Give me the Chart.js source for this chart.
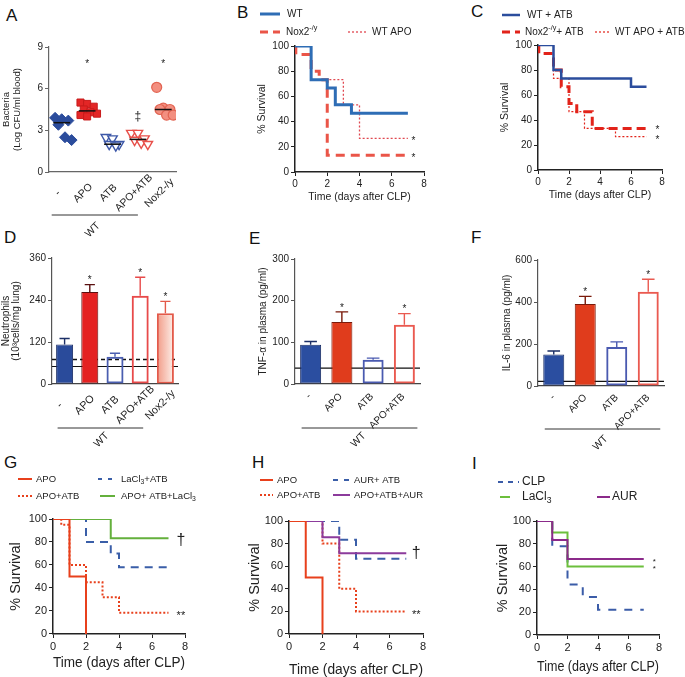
<!DOCTYPE html>
<html>
<head>
<meta charset="utf-8">
<title>Figure</title>
<script src="https://cdn.jsdelivr.net/npm/chart.js@4.4.1/dist/chart.umd.min.js"></script>
<style>
html, body { margin:0; padding:0; background:#ffffff; overflow:hidden; }
#wrap { position:relative; width:685px; height:677px; overflow:hidden; background:#ffffff; }
#wrap canvas { position:absolute; }
.plabel { position:absolute; font-family:'Liberation Sans', Arial, sans-serif; font-size:17px; line-height:17px; color:#111; }
</style>
</head>
<body>
<div id="wrap">
  <div class="plabel" style="left:6px;top:7px">A</div>
  <div class="plabel" style="left:237px;top:4px">B</div>
  <div class="plabel" style="left:471px;top:3px">C</div>
  <div class="plabel" style="left:4px;top:229px">D</div>
  <div class="plabel" style="left:249px;top:230px">E</div>
  <div class="plabel" style="left:471px;top:229px">F</div>
  <div class="plabel" style="left:4px;top:454px">G</div>
  <div class="plabel" style="left:252px;top:454px">H</div>
  <div class="plabel" style="left:472px;top:455px">I</div>
</div>
<script>
// ================= DATA =================
// Panel A : bacteria (log CFU/ml blood)
const catsA = ['-', 'APO', 'ATB', 'APO+ATB', 'Nox2-/y'];
const bactNone   = [3.9, 3.8, 3.7, 3.4, 2.5, 2.3];
const bactAPO    = [5.0, 4.9, 4.7, 4.5, 4.3, 4.2, 4.1, 4.0];
const bactATB    = [2.5, 2.4, 2.0, 2.0, 1.9];
const bactAPOATB = [2.8, 2.8, 2.4, 2.3, 2.1, 2.0];
const bactNox2   = [6.1, 4.6, 4.5, 4.5, 4.1, 4.1];
const bactTicks  = [0, 3, 6, 9];
const starsA     = ['APO', 'Nox2-/y'];
const starLevelA = 8.0;
const ddaggerA   = ['APO+ATB'];
const ddaggerLevelA = 4.0;

// Panel B : survival (day, %)
const survB_WT    = [[0,100],[1,73.3],[2,66.7],[2.5,53.3],[3.5,46.7],[7,46.7]];
const survB_Nox2  = [[0,100],[0.05,93.3],[1,80],[1.5,73.3],[2,13.3],[7,13.3]];
const survB_WTAPO = [[0,100],[1,73.3],[3,53.3],[4,26.7],[7,26.7]];

// Panel C
const survC_WT    = [[0,100],[1,80],[1.5,73.3],[6,66.7],[7,66.7]];
const survC_Nox2  = [[0,100],[0.05,93.3],[1,80],[1.5,66.7],[2,53.3],[2.5,46.7],[3.5,33.3],[7,33.3]];
const survC_WTAPO = [[0,100],[1,73.3],[2,46.7],[3,33.3],[5,26.7],[7,26.7]];

// Panel D : neutrophils
const catsD = ['-', 'APO', 'ATB', 'APO+ATB', 'Nox2-/y'];
const neutroMean = [113, 263, 78, 252, 202];
const neutroSem  = [17, 21, 10, 53, 34];
const neutroRefDashed = 70;
const neutroRefSolid  = 50;
const neutroTicks = [0, 120, 240, 360];
const starsD = ['APO', 'APO+ATB', 'Nox2-/y'];

// Panel E : TNF-alpha
const catsEF = ['-', 'APO', 'ATB', 'APO+ATB'];
const tnfMean = [94, 149, 58, 142];
const tnfSem  = [8, 24, 4, 27];
const tnfRef  = 38;
const tnfTicks = [0, 100, 200, 300];
// Panel F : IL-6
const il6Mean = [150, 390, 186, 449];
const il6Sem  = [17, 37, 24, 59];
const il6Ref  = 22;
const il6Ticks = [0, 200, 400, 600];
const starsEF = ['APO', 'APO+ATB'];

// Panel G
const survG_APO      = [[0,100],[1,50],[2,0]];
const survG_APOATB   = [[0,100],[0.5,95],[1,60],[2,45],[3,32],[4,18.5],[7,18.5]];
const survG_LaATB    = [[0,100],[2,80],[3.5,70],[4,58],[7,58]];
const survG_APOATBLa = [[0,100],[3.5,83.3],[7,83.3]];
// Panel H
const survH_APO       = [[0,100],[1,50],[2,0]];
const survH_APOATB    = [[0,100],[2,80],[3,40],[4,20],[7,20]];
const survH_AURATB    = [[0,100],[3,83.3],[4,66.7],[7,66.7]];
const survH_APOATBAUR = [[0,100],[2,85.7],[3,71.4],[7,71.4]];
// Panel I
const survI_CLP = [[0,100],[1,77.8],[2,44.4],[3,33.3],[4,22.2],[7,22.2]];
const survI_La  = [[0,100],[1,90],[2,60],[7,60]];
const survI_AUR = [[0,100],[1,83.3],[2,66.7],[7,66.7]];

const survTicksX = [0, 2, 4, 6, 8];
const survTicksY = [0, 20, 40, 60, 80, 100];

// ================= SETUP =================
const FONT = "'Liberation Sans', Arial, Helvetica, sans-serif";
Chart.defaults.font.family = FONT;
Chart.defaults.color = '#222';
Chart.defaults.animation = false;
Chart.defaults.responsive = false;
Chart.defaults.maintainAspectRatio = false;
Chart.defaults.devicePixelRatio = 1;
Chart.defaults.plugins.legend.display = false;
Chart.defaults.plugins.tooltip.enabled = false;
Chart.defaults.events = [];

const wrap = document.getElementById('wrap');
function mkCanvas(b) {
  const c = document.createElement('canvas');
  c.width = b.w; c.height = b.h;
  c.style.left = b.x + 'px'; c.style.top = b.y + 'px';
  c.style.width = b.w + 'px'; c.style.height = b.h + 'px';
  wrap.appendChild(c);
  return c;
}
function geom(cv, area, yTitleX, yTitleSize, yTitleLH, xTitleY, xTitleSize, xTitleLH) {
  const padL = yTitleX == null ? 0 : Math.max(0, yTitleX - cv.x - yTitleSize * yTitleLH / 2);
  const padB = xTitleY == null ? 0 : Math.max(0, cv.y + cv.h - xTitleY - xTitleSize * xTitleLH / 2);
  return {
    padding: { left: padL, top: area.t - cv.y, right: cv.x + cv.w - area.r, bottom: padB },
    yW: area.l - cv.x - padL,
    xH: cv.y + cv.h - padB - area.b
  };
}
function fixedTicks(arr) { return s => { s.ticks = arr.map(v => ({ value: v })); }; }
function richSegs(str) {
  const out = []; const re = /(\^\{[^}]*\}|_\{[^}]*\})/g; let last = 0, m;
  while ((m = re.exec(str))) {
    if (m.index > last) out.push([str.slice(last, m.index), '']);
    out.push([m[0].slice(2, -1), m[0][0] === '^' ? 'sup' : 'sub']);
    last = re.lastIndex;
  }
  if (last < str.length) out.push([str.slice(last), '']);
  return out;
}
function drawRich(ctx, str, x, y, size, color) {
  ctx.save(); ctx.fillStyle = color || '#222'; ctx.textBaseline = 'middle'; ctx.textAlign = 'left';
  let cx = x;
  for (const [t, k] of richSegs(str)) {
    const fs = k ? size * 0.72 : size;
    ctx.font = fs + 'px ' + FONT;
    const dy = k === 'sup' ? -size * 0.38 : (k === 'sub' ? size * 0.3 : 0);
    ctx.fillText(t, cx, y + dy);
    cx += ctx.measureText(t).width;
  }
  ctx.restore();
}
function drawStar(ctx, text, x, y, size) {
  ctx.save(); ctx.fillStyle = '#222'; ctx.font = size + 'px ' + FONT;
  ctx.textAlign = 'center'; ctx.textBaseline = 'alphabetic';
  ctx.fillText(text, x, y + size * 0.58); ctx.restore();
}
function drawMark(ctx, text, x, y, size) {
  ctx.save(); ctx.fillStyle = '#222'; ctx.font = size + 'px ' + FONT;
  ctx.textAlign = 'center'; ctx.textBaseline = 'middle';
  ctx.fillText(text, x, y); ctx.restore();
}
// rotated category labels under the x axis
function drawCatLabels(ctx, xs, cats, axisY, L) {
  cats.forEach((c, i) => {
    ctx.save();
    ctx.translate(xs.getPixelForValue(i) + L.dx, axisY + L.dy);
    ctx.rotate(-Math.PI / 4);
    ctx.fillStyle = '#222'; ctx.font = L.size + 'px ' + FONT;
    ctx.textAlign = L.align; ctx.textBaseline = 'middle';
    ctx.fillText(c, 0, 0);
    ctx.restore();
  });
}
function drawGroup(ctx, xs, i0, i1, yLocal, label, G) {
  const a = xs.getPixelForValue(i0) + G.a, b = xs.getPixelForValue(i1) + G.b;
  ctx.save(); ctx.strokeStyle = '#333'; ctx.lineWidth = 1;
  ctx.beginPath(); ctx.moveTo(a, yLocal); ctx.lineTo(b, yLocal); ctx.stroke();
  ctx.translate((a + b) / 2 + G.tx, yLocal + G.ty); ctx.rotate(-Math.PI / 4);
  ctx.fillStyle = '#222'; ctx.font = G.size + 'px ' + FONT; ctx.textAlign = 'center'; ctx.textBaseline = 'middle';
  ctx.fillText(label, 0, 0); ctx.restore();
}
function median(arr) {
  const s = [...arr].sort((p, q) => p - q); const n = s.length;
  return n % 2 ? s[(n - 1) / 2] : (s[n / 2 - 1] + s[n / 2]) / 2;
}

// ================= PANEL A (dot plot) =================
(function () {
  const cv = { x: 0, y: 0, w: 225, h: 250 };
  const area = { l: 49, t: 47, r: 176, b: 172 };
  const g = geom(cv, area, 6, 9.5, 1.15, null, 0, 1.2);
  const groups = [bactNone, bactAPO, bactATB, bactAPOATB, bactNox2];
  const styles = [
    { ps: 'rectRot', bg: '#2b4c9c', bc: '#2b4c9c', r: 5.5, rot: 0, bw: 1 },
    { ps: 'rect', bg: '#e32626', bc: '#c81c1c', r: 5, rot: 0, bw: 1 },
    { ps: 'triangle', bg: '#ffffff', bc: '#3d58a8', r: 5.5, rot: 180, bw: 1.4 },
    { ps: 'triangle', bg: '#ffffff', bc: '#e8504a', r: 5.5, rot: 180, bw: 1.4 },
    { ps: 'circle', bg: '#f38f80', bc: '#e26452', r: 5, rot: 0, bw: 1.2 }
  ];
  const spread = (i) => ((i % 3) - 1) * 0.26 + ((Math.floor(i / 3) % 2) ? 0.13 : 0);
  const datasets = groups.map((vals, gi) => ({
    data: vals.map((v, i) => ({ x: gi + spread(i), y: v })),
    pointStyle: styles[gi].ps, pointRadius: styles[gi].r, pointRotation: styles[gi].rot,
    backgroundColor: styles[gi].bg, borderColor: styles[gi].bc, pointBorderWidth: styles[gi].bw
  }));
  const deco = {
    id: 'decoA',
    afterDatasetsDraw(chart) {
      const ctx = chart.ctx, xs = chart.scales.x, ys = chart.scales.y;
      groups.forEach((vals, gi) => {
        const y = ys.getPixelForValue(median(vals));
        ctx.save(); ctx.strokeStyle = '#111'; ctx.lineWidth = 1.5;
        ctx.beginPath(); ctx.moveTo(xs.getPixelForValue(gi - 0.33), y); ctx.lineTo(xs.getPixelForValue(gi + 0.33), y); ctx.stroke(); ctx.restore();
      });
      starsA.forEach(c => drawStar(ctx, '*', xs.getPixelForValue(catsA.indexOf(c)), ys.getPixelForValue(starLevelA), 10));
      ddaggerA.forEach(c => drawMark(ctx, '\u2021', xs.getPixelForValue(catsA.indexOf(c)), ys.getPixelForValue(ddaggerLevelA), 12));
      drawCatLabels(ctx, xs, catsA, chart.chartArea.bottom, { dx: -4, dy: 21, align: 'center', size: 10.5 });
      drawGroup(ctx, xs, 0, 3, 215 - cv.y, 'WT', { a: -10, b: 0, tx: -2, ty: 15, size: 10.5 });
    }
  };
  new Chart(mkCanvas(cv), {
    type: 'scatter',
    data: { datasets },
    options: {
      layout: { padding: g.padding },
      scales: {
        x: {
          type: 'linear', min: -0.5, max: 4.5,
          afterBuildTicks: fixedTicks(catsA.map((_, i) => i)),
          ticks: { display: false },
          grid: { display: false, drawTicks: false },
          border: { display: true, color: '#666', width: 1.2 },
          afterFit: s => { s.height = g.xH; }
        },
        y: {
          min: 0, max: 9, afterBuildTicks: fixedTicks(bactTicks),
          ticks: { font: { size: 10 }, padding: 2, color: '#222' },
          grid: { display: true, drawOnChartArea: false, tickLength: 4, color: '#666' },
          border: { display: true, color: '#666', width: 1.2 },
          title: { display: true, text: ['Bacteria', '(Log CFU/ml blood)'], font: { size: 9.5, lineHeight: 1.15 }, padding: 0, color: '#222' },
          afterFit: s => { s.width = g.yW; }
        }
      }
    },
    plugins: [deco]
  });
})();

// ================= SURVIVAL PANELS =================
function survivalPanel(o) {
  const g = geom(o.cv, o.area, o.yTitleX, o.titleSize, 1.2, o.xTitleY, o.titleSize, 1.2);
  const deco = {
    id: 'deco' + o.id,
    afterDraw(chart) {
      const ctx = chart.ctx, xs = chart.scales.x, ys = chart.scales.y;
      for (const L of o.legend) {
        ctx.save(); ctx.strokeStyle = L.color; ctx.lineWidth = L.width; ctx.setLineDash(L.dash || []);
        ctx.beginPath(); ctx.moveTo(L.x1 - o.cv.x, L.y - o.cv.y); ctx.lineTo(L.x2 - o.cv.x, L.y - o.cv.y); ctx.stroke(); ctx.restore();
        drawRich(ctx, L.text, L.tx - o.cv.x, L.y - o.cv.y, o.legendSize);
      }
      for (const M of o.marks) {
        const px = xs.getPixelForValue(M.day), py = ys.getPixelForValue(M.value);
        if (M.star) drawStar(ctx, M.text, px, py, M.size); else drawMark(ctx, M.text, px, py, M.size);
      }
    }
  };
  new Chart(mkCanvas(o.cv), {
    type: 'line',
    data: {
      datasets: o.curves.map(c => ({
        data: c.data.map(([x, y]) => ({ x, y })),
        borderColor: c.color, borderWidth: c.width, borderDash: c.dash || [], borderCapStyle: 'butt',
        stepped: true, pointRadius: 0, fill: false
      }))
    },
    options: {
      layout: { padding: g.padding },
      scales: {
        x: {
          type: 'linear', min: 0, max: 8, afterBuildTicks: fixedTicks(survTicksX),
          ticks: { font: { size: o.tickSize }, color: '#222', padding: 2, maxRotation: 0 },
          grid: { display: true, drawOnChartArea: false, drawTicks: true, tickLength: 4, color: '#222' },
          border: { display: true, color: '#222', width: o.axisW },
          title: { display: true, text: 'Time (days after CLP)', font: { size: o.titleSize, lineHeight: 1.2 }, color: '#222', padding: 0 },
          afterFit: s => { s.height = g.xH; }
        },
        y: {
          min: 0, max: 100, afterBuildTicks: fixedTicks(survTicksY),
          ticks: { font: { size: o.tickSize }, color: '#222', padding: 2 },
          grid: { display: true, drawOnChartArea: false, drawTicks: true, tickLength: 4, color: '#222' },
          border: { display: true, color: '#222', width: o.axisW },
          title: { display: true, text: '% Survival', font: { size: o.titleSize, lineHeight: 1.2 }, color: '#222', padding: 0 },
          afterFit: s => { s.width = g.yW; }
        }
      }
    },
    plugins: [deco]
  });
}

survivalPanel({
  id: 'B', cv: { x: 225, y: 0, w: 230, h: 225 }, area: { l: 295, t: 46, r: 424, b: 172 },
  yTitleX: 262, xTitleY: 197, titleSize: 10.5, tickSize: 10, legendSize: 10, axisW: 1.5,
  curves: [
    { data: survB_WT, color: '#2e6db5', width: 3 },
    { data: survB_Nox2, color: '#ea5548', width: 3, dash: [9, 6] },
    { data: survB_WTAPO, color: '#e04850', width: 1.3, dash: [2, 2] }
  ],
  legend: [
    { text: 'WT', color: '#2e6db5', width: 3, x1: 260, x2: 280, y: 14, tx: 287 },
    { text: 'Nox2^{-/y}', color: '#ea5548', width: 3, dash: [8, 5], x1: 260, x2: 280, y: 32, tx: 286 },
    { text: 'WT APO', color: '#e04850', width: 1.3, dash: [2, 2], x1: 348, x2: 366, y: 32, tx: 372 }
  ],
  marks: [
    { text: '*', day: 7.35, value: 26.7, size: 10, star: true },
    { text: '*', day: 7.35, value: 13.3, size: 10, star: true }
  ]
});

survivalPanel({
  id: 'C', cv: { x: 455, y: 0, w: 230, h: 225 }, area: { l: 538, t: 45, r: 662, b: 170 },
  yTitleX: 505, xTitleY: 195, titleSize: 10.5, tickSize: 10, legendSize: 10, axisW: 1.5,
  curves: [
    { data: survC_WT, color: '#2b4d9d', width: 2.5 },
    { data: survC_Nox2, color: '#e2231a', width: 3, dash: [9, 5] },
    { data: survC_WTAPO, color: '#e2231a', width: 1.2, dash: [2, 2] }
  ],
  legend: [
    { text: 'WT + ATB', color: '#2b4d9d', width: 2.5, x1: 502, x2: 520, y: 15, tx: 527 },
    { text: 'Nox2^{-/y}+ ATB', color: '#e2231a', width: 3, dash: [8, 5], x1: 502, x2: 520, y: 32, tx: 525 },
    { text: 'WT APO + ATB', color: '#e2231a', width: 1.2, dash: [2, 2], x1: 595, x2: 611, y: 32, tx: 615 }
  ],
  marks: [
    { text: '*', day: 7.7, value: 34, size: 10, star: true },
    { text: '*', day: 7.7, value: 26, size: 10, star: true }
  ]
});

survivalPanel({
  id: 'G', cv: { x: 0, y: 450, w: 230, h: 235 }, area: { l: 53, t: 519, r: 185, b: 634 },
  yTitleX: 16, xTitleY: 663, titleSize: 14.5, tickSize: 11, legendSize: 9.5, axisW: 1.5,
  curves: [
    { data: survG_APO, color: '#e8401c', width: 2 },
    { data: survG_APOATBLa, color: '#64b03c', width: 2 },
    { data: survG_LaATB, color: '#3a5ea8', width: 2, dash: [8, 6] },
    { data: survG_APOATB, color: '#e8401c', width: 2, dash: [2, 2] }
  ],
  legend: [
    { text: 'APO', color: '#e8401c', width: 2, x1: 18, x2: 32, y: 479, tx: 36 },
    { text: 'APO+ATB', color: '#e8401c', width: 2, dash: [2, 2], x1: 18, x2: 32, y: 496, tx: 36 },
    { text: 'LaCl_{3}+ATB', color: '#3a5ea8', width: 2, dash: [4, 6], x1: 98, x2: 116, y: 479, tx: 121 },
    { text: 'APO+ ATB+LaCl_{3}', color: '#64b03c', width: 2, x1: 100, x2: 115, y: 496, tx: 121 }
  ],
  marks: [
    { text: '\u2020', day: 7.75, value: 81, size: 16, star: false },
    { text: '**', day: 7.75, value: 18.5, size: 11, star: true }
  ]
});

survivalPanel({
  id: 'H', cv: { x: 225, y: 450, w: 230, h: 235 }, area: { l: 289, t: 521, r: 423, b: 634 },
  yTitleX: 255, xTitleY: 670, titleSize: 14.5, tickSize: 11, legendSize: 9.5, axisW: 1.5,
  curves: [
    { data: survH_APO, color: '#e8401c', width: 2 },
    { data: survH_APOATBAUR, color: '#8c3b9c', width: 2 },
    { data: survH_AURATB, color: '#3a5ea8', width: 2, dash: [8, 6] },
    { data: survH_APOATB, color: '#e8401c', width: 2, dash: [2, 2] }
  ],
  legend: [
    { text: 'APO', color: '#e8401c', width: 2, x1: 260, x2: 273, y: 480, tx: 277 },
    { text: 'APO+ATB', color: '#e8401c', width: 2, dash: [2, 2], x1: 260, x2: 273, y: 495, tx: 277 },
    { text: 'AUR+ ATB', color: '#3a5ea8', width: 2, dash: [5, 6], x1: 333, x2: 350, y: 480, tx: 354 },
    { text: 'APO+ATB+AUR', color: '#8c3b9c', width: 2, x1: 333, x2: 350, y: 495, tx: 354 }
  ],
  marks: [
    { text: '\u2020', day: 7.6, value: 71, size: 16, star: false },
    { text: '**', day: 7.6, value: 20, size: 11, star: true }
  ]
});

survivalPanel({
  id: 'I', cv: { x: 455, y: 450, w: 230, h: 235 }, area: { l: 537, t: 521, r: 659, b: 635 },
  yTitleX: 503, xTitleY: 667, titleSize: 14.5, tickSize: 11, legendSize: 12, axisW: 1.5,
  curves: [
    { data: survI_AUR, color: '#8b2a8a', width: 2 },
    { data: survI_La, color: '#6cbf3c', width: 2 },
    { data: survI_CLP, color: '#3b5ca8', width: 2, dash: [8, 8] }
  ],
  legend: [
    { text: 'CLP', color: '#3b5ca8', width: 2, dash: [5, 5], x1: 498, x2: 519, y: 482, tx: 522 },
    { text: 'LaCl_{3}', color: '#6cbf3c', width: 2, x1: 500, x2: 510, y: 497, tx: 522 },
    { text: 'AUR', color: '#8b2a8a', width: 2, x1: 597, x2: 610, y: 497, tx: 612 }
  ],
  marks: [
    { text: '*', day: 7.7, value: 66.7, size: 8, star: true },
    { text: '*', day: 7.7, value: 60, size: 8, star: true }
  ]
});

// ================= BAR PANELS =================
function barPanel(o) {
  const g = geom(o.cv, o.area, o.yTitleX, o.yTitleSize, o.yTitleLH, null, 0, 1.2);
  const n = o.cats.length;
  const catW = (o.area.r - o.area.l) / n;
  const bp = o.barW / catW;
  const fillFor = (c) => {
    const f = o.fills[c.dataIndex];
    if (f !== 'grad') return f;
    const ch = c.chart, xs = ch.scales && ch.scales.x;
    if (!xs || !ch.chartArea) return '#f4a896';
    const cx = xs.getPixelForValue(c.dataIndex);
    const gr = ch.ctx.createLinearGradient(cx - o.barW / 2, 0, cx + o.barW / 2, 0);
    gr.addColorStop(0, '#f29a86'); gr.addColorStop(1, '#fdf0ea');
    return gr;
  };
  const deco = {
    id: 'deco' + o.id,
    beforeDatasetsDraw(chart) {
      const ctx = chart.ctx, ys = chart.scales.y, ca = chart.chartArea;
      for (const R of o.refs) {
        const y = ys.getPixelForValue(R.value);
        ctx.save(); ctx.strokeStyle = '#111'; ctx.lineWidth = R.width; ctx.setLineDash(R.dash || []);
        ctx.beginPath(); ctx.moveTo(ca.left, y); ctx.lineTo(ca.right, y); ctx.stroke(); ctx.restore();
      }
    },
    afterDatasetsDraw(chart) {
      const ctx = chart.ctx, xs = chart.scales.x, ys = chart.scales.y;
      const meta = chart.getDatasetMeta(0);
      meta.data.forEach((el, i) => {
        const top = ys.getPixelForValue(o.means[i] + o.sem[i]);
        ctx.save(); ctx.strokeStyle = o.borders[i]; ctx.lineWidth = 1.4;
        ctx.beginPath(); ctx.moveTo(el.x, el.y); ctx.lineTo(el.x, top);
        ctx.moveTo(el.x - o.barW * 0.3, top); ctx.lineTo(el.x + o.barW * 0.3, top); ctx.stroke(); ctx.restore();
      });
      o.stars.forEach(c => {
        const i = o.cats.indexOf(c);
        const top = ys.getPixelForValue(o.means[i] + o.sem[i]);
        drawStar(ctx, '*', xs.getPixelForValue(i), top - 7, 10);
      });
      drawCatLabels(ctx, xs, o.cats, chart.chartArea.bottom, o.labels);
      drawGroup(ctx, xs, 0, 3, o.groupY - o.cv.y, 'WT', o.group);
    }
  };
  new Chart(mkCanvas(o.cv), {
    type: 'bar',
    data: {
      labels: o.cats,
      datasets: [{
        data: o.means, backgroundColor: fillFor, borderColor: o.borders, borderWidth: o.bws,
        borderSkipped: false, barPercentage: bp, categoryPercentage: 1
      }]
    },
    options: {
      layout: { padding: g.padding },
      scales: {
        x: {
          ticks: { display: false },
          grid: { display: false, drawTicks: false },
          border: { display: true, color: '#444', width: 1.2 },
          afterFit: s => { s.height = g.xH; }
        },
        y: {
          min: 0, max: o.ticks[o.ticks.length - 1], afterBuildTicks: fixedTicks(o.ticks),
          ticks: { font: { size: 10 }, padding: 2, color: '#222' },
          grid: { display: true, drawOnChartArea: false, tickLength: 4, color: '#555' },
          border: { display: true, color: '#555', width: 1.2 },
          title: { display: true, text: o.yTitle, font: { size: o.yTitleSize, lineHeight: o.yTitleLH }, padding: 0, color: '#222' },
          afterFit: s => { s.width = g.yW; }
        }
      }
    },
    plugins: [deco]
  });
}

barPanel({
  id: 'D', cv: { x: 0, y: 225, w: 225, h: 225 }, area: { l: 52, t: 258, r: 178, b: 384 },
  yTitleX: 6, yTitleSize: 10, yTitleLH: 1.0, yTitle: ['Neutrophils', '(10\u00B3cells/mg lung)'],
  cats: catsD, means: neutroMean, sem: neutroSem, ticks: neutroTicks, stars: starsD, barW: 17,
  fills: ['#2a4b9b', '#e42222', 'rgba(255,255,255,0)', 'rgba(255,255,255,0)', 'grad'],
  borders: ['#1c2f66', '#5a1010', '#4a5eb0', '#e84a4a', '#e35a4a'], bws: [1, 1, 2, 2, 2],
  refs: [{ value: neutroRefDashed, width: 1.5, dash: [4, 3] }, { value: neutroRefSolid, width: 1.2 }],
  labels: { dx: -5, dy: 21, align: 'center', size: 10.8 },
  groupY: 428, group: { a: -7, b: 3, tx: 1, ty: 12, size: 10.5 }
});

barPanel({
  id: 'E', cv: { x: 225, y: 225, w: 230, h: 225 }, area: { l: 295, t: 259, r: 420, b: 384 },
  yTitleX: 263, yTitleSize: 10, yTitleLH: 1.2, yTitle: 'TNF-\u03B1 in plasma (pg/ml)',
  cats: catsEF, means: tnfMean, sem: tnfSem, ticks: tnfTicks, stars: starsEF, barW: 21,
  fills: ['#2b4ea0', '#e03c1c', 'rgba(255,255,255,0)', 'rgba(255,255,255,0)'],
  borders: ['#1c2f66', '#7a1a0a', '#4a5ab0', '#ea5a50'], bws: [1, 1, 2, 2],
  refs: [{ value: tnfRef, width: 1.2 }],
  labels: { dx: -1, dy: 11, align: 'right', size: 10 },
  groupY: 428, group: { a: -9, b: 13, tx: -1, ty: 12, size: 10.5 }
});

barPanel({
  id: 'F', cv: { x: 455, y: 225, w: 230, h: 225 }, area: { l: 538, t: 260, r: 664, b: 386 },
  yTitleX: 507, yTitleSize: 10, yTitleLH: 1.2, yTitle: 'IL-6 in plasma (pg/ml)',
  cats: catsEF, means: il6Mean, sem: il6Sem, ticks: il6Ticks, stars: starsEF, barW: 21,
  fills: ['#2b4ea0', '#e03c1c', 'rgba(255,255,255,0)', 'rgba(255,255,255,0)'],
  borders: ['#1c2f66', '#7a1a0a', '#4a5ab0', '#ea5a50'], bws: [1, 1, 2, 2],
  refs: [{ value: il6Ref, width: 1.2 }],
  labels: { dx: 0, dy: 10, align: 'right', size: 10 },
  groupY: 429, group: { a: -9, b: 12, tx: -2, ty: 14, size: 10.5 }
});
</script>
</body>
</html>
